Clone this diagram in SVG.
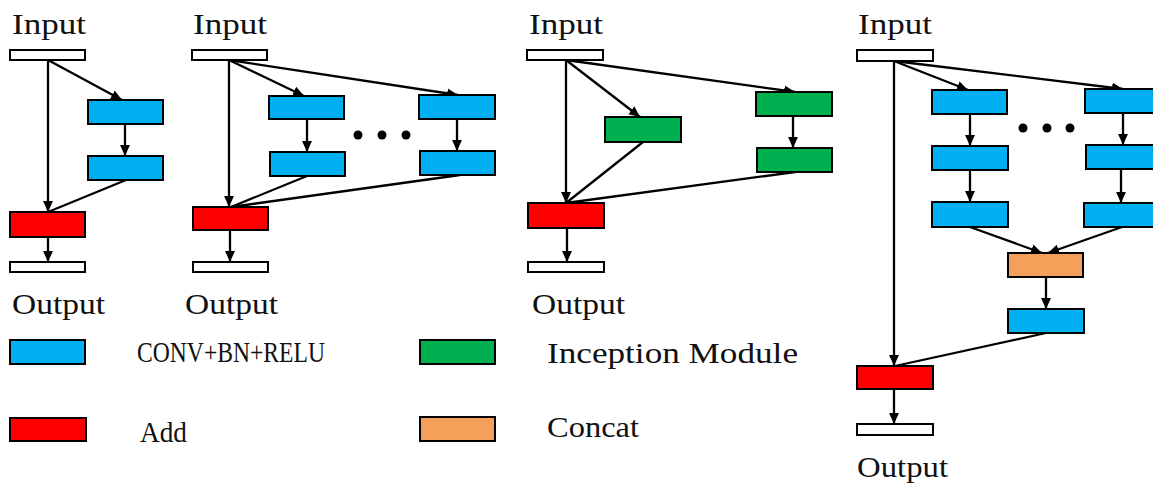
<svg xmlns="http://www.w3.org/2000/svg" width="1153" height="483" viewBox="0 0 1153 483">
<style>
.box{stroke:#000;stroke-width:2}
.io{fill:#fff}
.conv{fill:#00B0F0}
.add{fill:#FF0000}
.inc{fill:#00B050}
.cat{fill:#F5A05A}
.t{font-family:"Liberation Serif","Noto Serif",serif;font-size:30px;fill:#111}
.e{stroke:#000;stroke-width:2.3;fill:none}
.a{marker-end:url(#arr)}
</style>
<defs>
<marker id="arr" markerUnits="userSpaceOnUse" markerWidth="11" markerHeight="11" viewBox="0 0 10 10" refX="10" refY="5" orient="auto">
<path d="M0,0.5 L10,5 L0,9.5 z" fill="#000"/>
</marker>
</defs>
<rect width="1153" height="483" fill="#fff"/>

<g id="connectors">
<!-- panel 1 -->
<line class="e a" x1="48" y1="60" x2="48" y2="212"/>
<line class="e a" x1="48" y1="60" x2="122" y2="100"/>
<line class="e a" x1="125" y1="124" x2="125" y2="156"/>
<line class="e" x1="126" y1="180" x2="48" y2="212"/>
<line class="e a" x1="48" y1="237" x2="48" y2="262"/>
<!-- panel 2 -->
<line class="e a" x1="229" y1="60" x2="229" y2="207"/>
<line class="e a" x1="229" y1="60" x2="304" y2="96"/>
<line class="e a" x1="229" y1="60" x2="458" y2="95"/>
<line class="e a" x1="307" y1="119" x2="307" y2="152"/>
<line class="e a" x1="457" y1="119" x2="457" y2="151"/>
<line class="e" x1="307" y1="176" x2="231" y2="207"/>
<line class="e" x1="460" y1="175" x2="231" y2="207"/>
<line class="e a" x1="230" y1="230" x2="230" y2="262"/>
<!-- panel 3 -->
<line class="e a" x1="566" y1="60" x2="566" y2="203"/>
<line class="e a" x1="566" y1="60" x2="640" y2="117"/>
<line class="e a" x1="566" y1="60" x2="795" y2="92"/>
<line class="e a" x1="793" y1="116" x2="793" y2="148"/>
<line class="e" x1="643" y1="142" x2="566" y2="203"/>
<line class="e" x1="795" y1="172" x2="566" y2="203"/>
<line class="e a" x1="567" y1="228" x2="567" y2="262"/>
<!-- panel 4 -->
<line class="e a" x1="894" y1="61" x2="894" y2="366"/>
<line class="e a" x1="894" y1="61" x2="968" y2="90"/>
<line class="e a" x1="894" y1="61" x2="1123" y2="89"/>
<line class="e a" x1="970" y1="114" x2="970" y2="146"/>
<line class="e a" x1="970" y1="170" x2="970" y2="202"/>
<line class="e a" x1="1123" y1="113" x2="1123" y2="145"/>
<line class="e a" x1="1121" y1="169" x2="1121" y2="203"/>
<line class="e a" x1="970" y1="227" x2="1042" y2="253"/>
<line class="e a" x1="1122" y1="227" x2="1048" y2="253"/>
<line class="e a" x1="1046" y1="277" x2="1046" y2="309"/>
<line class="e" x1="1046" y1="333" x2="895" y2="366"/>
<line class="e a" x1="894" y1="389" x2="894" y2="424"/>
</g>

<!-- panel 1 -->
<g id="p1-input"><text class="t" x="12" y="34" textLength="74" lengthAdjust="spacingAndGlyphs">Input</text><rect class="box io" x="10" y="50" width="75" height="10"/></g>
<g id="p1-conv1"><rect class="box conv" x="88" y="100" width="75" height="24"/></g>
<g id="p1-conv2"><rect class="box conv" x="88" y="156" width="75" height="24"/></g>
<g id="p1-add"><rect class="box add" x="10" y="212" width="75" height="25"/></g>
<g id="p1-output"><rect class="box io" x="10" y="262" width="75" height="10"/><text class="t" x="12" y="314" textLength="93" lengthAdjust="spacingAndGlyphs">Output</text></g>

<!-- panel 2 -->
<g id="p2-input"><text class="t" x="193" y="34" textLength="74" lengthAdjust="spacingAndGlyphs">Input</text><rect class="box io" x="192" y="50" width="75" height="10"/></g>
<g id="p2-conv-a1"><rect class="box conv" x="269" y="96" width="75" height="23"/></g>
<g id="p2-conv-a2"><rect class="box conv" x="270" y="152" width="75" height="24"/></g>
<g id="p2-conv-b1"><rect class="box conv" x="419" y="95" width="76" height="24"/></g>
<g id="p2-conv-b2"><rect class="box conv" x="420" y="151" width="75" height="24"/></g>
<g id="p2-dots"><circle cx="358" cy="135" r="4.5"/><circle cx="382" cy="135" r="4.5"/><circle cx="406" cy="135" r="4.5"/></g>
<g id="p2-add"><rect class="box add" x="193" y="207" width="75" height="23"/></g>
<g id="p2-output"><rect class="box io" x="193" y="262" width="75" height="10"/><text class="t" x="185" y="314" textLength="93" lengthAdjust="spacingAndGlyphs">Output</text></g>

<!-- panel 3 -->
<g id="p3-input"><text class="t" x="529" y="34" textLength="74" lengthAdjust="spacingAndGlyphs">Input</text><rect class="box io" x="527" y="50" width="76" height="10"/></g>
<g id="p3-inc1"><rect class="box inc" x="605" y="117" width="76" height="25"/></g>
<g id="p3-inc2"><rect class="box inc" x="756" y="92" width="76" height="24"/></g>
<g id="p3-inc3"><rect class="box inc" x="757" y="148" width="75" height="24"/></g>
<g id="p3-add"><rect class="box add" x="528" y="203" width="76" height="25"/></g>
<g id="p3-output"><rect class="box io" x="528" y="262" width="76" height="10"/><text class="t" x="532" y="314" textLength="93" lengthAdjust="spacingAndGlyphs">Output</text></g>

<!-- panel 4 -->
<g id="p4-input"><text class="t" x="858" y="34" textLength="74" lengthAdjust="spacingAndGlyphs">Input</text><rect class="box io" x="857" y="50" width="76" height="11"/></g>
<g id="p4-conv-c1"><rect class="box conv" x="932" y="90" width="75" height="24"/></g>
<g id="p4-conv-c2"><rect class="box conv" x="932" y="146" width="76" height="24"/></g>
<g id="p4-conv-c3"><rect class="box conv" x="932" y="202" width="76" height="25"/></g>
<g id="p4-conv-d1"><rect class="box conv" x="1085" y="89" width="76" height="24"/></g>
<g id="p4-conv-d2"><rect class="box conv" x="1086" y="145" width="76" height="24"/></g>
<g id="p4-conv-d3"><rect class="box conv" x="1084" y="203" width="76" height="24"/></g>
<g id="p4-dots"><circle cx="1023" cy="128" r="4.5"/><circle cx="1047" cy="128" r="4.5"/><circle cx="1070" cy="128" r="4.5"/></g>
<g id="p4-concat"><rect class="box cat" x="1008" y="253" width="75" height="24"/></g>
<g id="p4-conv-e"><rect class="box conv" x="1008" y="309" width="76" height="24"/></g>
<g id="p4-add"><rect class="box add" x="857" y="366" width="76" height="23"/></g>
<g id="p4-output"><rect class="box io" x="857" y="424" width="76" height="11"/><text class="t" x="857" y="477" textLength="91" lengthAdjust="spacingAndGlyphs">Output</text></g>

<!-- legend -->
<g id="legend-conv"><rect class="box conv" x="10" y="340" width="75" height="24"/><text class="t" x="137" y="362" textLength="188" lengthAdjust="spacingAndGlyphs">CONV+BN+RELU</text></g>
<g id="legend-add"><rect class="box add" x="10" y="418" width="76" height="23"/><text class="t" x="140" y="442" textLength="47" lengthAdjust="spacingAndGlyphs">Add</text></g>
<g id="legend-inception"><rect class="box inc" x="420" y="340" width="75" height="24"/><text class="t" x="547" y="363" textLength="251" lengthAdjust="spacingAndGlyphs">Inception Module</text></g>
<g id="legend-concat"><rect class="box cat" x="420" y="417" width="75" height="24"/><text class="t" x="547" y="437" textLength="92" lengthAdjust="spacingAndGlyphs">Concat</text></g>
</svg>
